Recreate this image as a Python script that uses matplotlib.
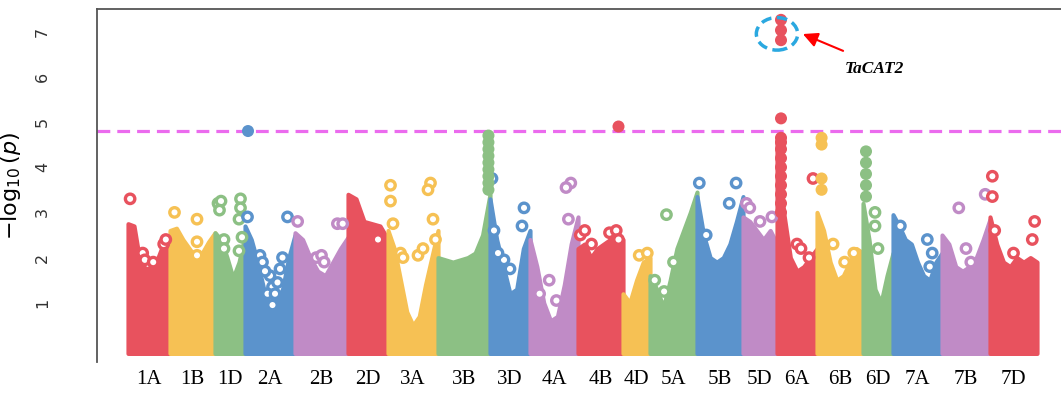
import numpy as np
import matplotlib.pyplot as plt
from matplotlib.patches import Ellipse

# chromosomes, approximate lengths (Mb) and colours cycling every 5
chroms = ["1A", "1B", "1D", "2A", "2B", "2D", "3A", "3B", "3D", "4A", "4B",
          "4D", "5A", "5B", "5D", "6A", "6B", "6D", "7A", "7B", "7D"]
chrom_len = [630, 675, 450, 750, 795, 600, 750, 780, 600, 720, 675,
             405, 705, 690, 510, 600, 690, 450, 735, 720, 705]
palette = ["#E8525E", "#F6C154", "#8CC084", "#5B93CC", "#C08BC6"]

# upper envelope of the dense SNP cloud, evenly spaced along each chromosome
envelope = [
    [2.75, 2.7, 1.9, 1.75, 1.8, 2.0, 2.35, 2.4],          # 1A
    [2.6, 2.65, 2.4, 2.2, 2.0, 2.1, 2.35, 2.55],          # 1B
    [2.55, 2.4, 2.0, 1.55, 1.9, 2.5],                     # 1D
    [2.7, 2.4, 1.9, 1.3, 0.9, 1.0, 1.3, 2.0, 2.5],        # 2A
    [2.55, 2.4, 2.0, 1.7, 1.6, 1.9, 2.2, 2.45],           # 2B
    [3.4, 3.3, 2.8, 2.75, 2.7, 2.4],                      # 2D
    [2.6, 2.2, 1.5, 0.8, 0.5, 0.7, 1.4, 2.0, 2.6],        # 3A
    [2.0, 1.95, 1.9, 1.95, 2.0, 2.1, 2.5, 3.4],           # 3B
    [3.3, 2.4, 1.8, 1.2, 1.3, 2.2, 2.6],                  # 3D
    [2.4, 1.8, 1.0, 0.6, 0.7, 1.4, 2.3, 2.9],             # 4A
    [2.2, 2.3, 2.0, 2.2, 2.3, 2.4, 2.5, 2.4],             # 4B
    [1.2, 1.0, 1.5, 1.9, 2.0],                            # 4D
    [1.6, 1.3, 0.9, 1.5, 2.2, 2.6, 3.0, 3.45],            # 5A
    [3.35, 2.5, 2.0, 1.9, 2.0, 2.3, 2.8, 3.35],           # 5B
    [2.9, 2.8, 2.6, 2.4, 2.6, 2.3],                       # 5D
    [4.6, 3.0, 2.0, 1.7, 1.8, 2.0, 2.2],                  # 6A
    [3.0, 2.6, 1.9, 1.5, 1.6, 1.9, 2.2, 2.1],             # 6B
    [3.2, 2.4, 1.3, 1.0, 1.6, 2.1],                       # 6D
    [2.95, 2.7, 2.4, 2.3, 1.9, 1.6, 1.5, 1.9, 2.1],       # 7A
    [2.5, 2.3, 1.8, 1.7, 1.8, 2.0, 2.4, 2.85],            # 7B
    [2.9, 2.3, 1.9, 1.8, 2.0, 1.9, 2.0, 1.9],             # 7D
]

# scattered SNPs above the cloud: chromosome, relative position, -log10(p)
open_chr = (["1A"] * 6 + ["1B"] * 4 + ["1D"] * 10 + ["2A"] * 13 + ["2B"] * 6 +
            ["2D"] + ["3A"] * 11 + ["3D"] * 7 + ["4A"] * 6 + ["4B"] * 6 +
            ["4D"] * 2 + ["5A"] * 4 + ["5B"] * 4 + ["5D"] * 4 + ["6A"] * 4 +
            ["6B"] * 3 + ["6D"] * 3 + ["7A"] * 4 + ["7B"] * 4 + ["7D"] * 6)
open_pos = [0.05, 0.35, 0.4, 0.6, 0.85, 0.9,
            0.1, 0.6, 0.6, 0.6,
            0.1, 0.2, 0.15, 0.85, 0.85, 0.8, 0.9, 0.8, 0.3, 0.3,
            0.05, 0.85, 0.3, 0.35, 0.5, 0.55, 0.45, 0.6, 0.65, 0.7, 0.75, 0.55, 0.4,
            0.05, 0.8, 0.9, 0.4, 0.5, 0.55,
            0.75,
            0.05, 0.05, 0.1, 0.25, 0.3, 0.6, 0.7, 0.85, 0.8, 0.9, 0.95,
            0.05, 0.1, 0.85, 0.8, 0.35, 0.5, 0.2,
            0.85, 0.75, 0.8, 0.4, 0.2, 0.55,
            0.05, 0.15, 0.3, 0.7, 0.85, 0.9,
            0.6, 0.9,
            0.35, 0.1, 0.3, 0.5,
            0.05, 0.2, 0.85, 0.7,
            0.1, 0.2, 0.5, 0.85,
            0.9, 0.5, 0.6, 0.8,
            0.35, 0.8, 0.6,
            0.4, 0.4, 0.5,
            0.15, 0.7, 0.8, 0.75,
            0.35, 0.9, 0.5, 0.6,
            0.05, 0.05, 0.1, 0.95, 0.9, 0.5]
open_val = [3.3, 2.1, 1.95, 1.9, 2.3, 2.4,
            3.0, 2.85, 2.35, 2.05,
            3.2, 3.25, 3.05, 3.3, 3.1, 2.85, 2.45, 2.15, 2.4, 2.2,
            2.9, 2.9, 2.05, 1.9, 1.6, 1.35, 1.2, 1.2, 1.45, 1.75, 2.0, 0.95, 1.7,
            2.8, 2.75, 2.75, 2.0, 2.05, 1.9,
            2.4,
            3.6, 3.25, 2.75, 2.1, 2.0, 2.05, 2.2, 3.65, 3.5, 2.85, 2.4,
            3.75, 2.6, 3.1, 2.7, 1.95, 1.75, 2.1,
            3.65, 3.55, 2.85, 1.5, 1.2, 1.05,
            2.5, 2.6, 2.3, 2.55, 2.6, 2.4,
            2.05, 2.1,
            2.95, 1.5, 1.25, 1.9,
            3.65, 2.5, 3.65, 3.2,
            3.2, 3.1, 2.8, 2.9,
            3.75, 2.3, 2.2, 2.0,
            2.3, 2.1, 1.9,
            3.0, 2.7, 2.2,
            2.7, 2.4, 2.1, 1.8,
            3.1, 3.4, 2.2, 1.9,
            3.8, 3.35, 2.6, 2.8, 2.4, 2.1]

# tightly packed peak SNPs drawn as filled dots
peak_chr = (["2A"] + ["3B"] * 9 + ["4B"] + ["6A"] * 14 + ["6B"] * 4 + ["6D"] * 5)
peak_pos = [0.06,
            0.97, 0.97, 0.97, 0.97, 0.97, 0.97, 0.97, 0.97, 0.97,
            0.9,
            0.1, 0.1, 0.1, 0.1, 0.1, 0.1, 0.1, 0.1, 0.1, 0.1, 0.1, 0.1, 0.1, 0.1,
            0.1, 0.1, 0.1, 0.1,
            0.1, 0.1, 0.1, 0.1, 0.1]
peak_val = [4.8,
            3.5, 3.65, 3.8, 3.95, 4.1, 4.25, 4.4, 4.55, 4.7,
            4.9,
            3.0, 3.2, 3.4, 3.6, 3.8, 4.0, 4.2, 4.4, 4.55, 4.65, 5.08, 6.81, 7.03, 7.26,
            4.65, 4.5, 3.75, 3.5,
            3.35, 3.6, 3.85, 4.1, 4.35]

threshold = 4.79

starts = np.concatenate([[0], np.cumsum(chrom_len)[:-1]])
idx = {c: i for i, c in enumerate(chroms)}

fig = plt.figure(figsize=(10.61, 4.03), dpi=100)
ax = fig.add_axes([97 / 1061, 41 / 403, 964 / 1061, 353 / 403])

for i, env in enumerate(envelope):
    col = palette[i % 5]
    xs = starts[i] + np.linspace(0.0, 1.0, len(env)) * chrom_len[i]
    ax.fill_between(xs, -0.12, env, color=col, lw=3, edgecolor=col,
                    joinstyle="round", zorder=2)

ox = [starts[idx[c]] + p * chrom_len[idx[c]] for c, p in zip(open_chr, open_pos)]
oc = [palette[idx[c] % 5] for c in open_chr]
ax.scatter(ox, open_val, s=46, facecolors="white", edgecolors=oc, linewidths=2.4, zorder=3)

px = [starts[idx[c]] + p * chrom_len[idx[c]] for c, p in zip(peak_chr, peak_pos)]
pc = [palette[idx[c] % 5] for c in peak_chr]
ax.scatter(px, peak_val, s=75, c=pc, edgecolors="none", zorder=4)

ax.axhline(threshold, color="#EB6BEE", lw=2.3, dashes=(4, 2.2), zorder=1)

# highlight TaCAT2
top_x = starts[idx["6A"]] + 0.1 * chrom_len[idx["6A"]]
ax.add_patch(Ellipse((top_x - 60, 6.95), 620, 0.72, fill=False, ec="#2AA8E0",
                     lw=2.5, ls=(0, (3, 1.6)), zorder=5))
ax.annotate("", xy=(top_x + 290, 6.97), xytext=(top_x + 970, 6.55),
            arrowprops=dict(arrowstyle="-|>", color="red", lw=1.5, mutation_scale=22))
ax.text(top_x + 1400, 6.17, "TaCAT2", fontsize=12.5, fontweight="bold", style="italic",
        family="Liberation Serif", ha="center", va="center")

ax.set_xlim(-465, 13995)
ax.set_ylim(-0.31, 7.5)
ax.set_xticks(starts + np.array(chrom_len) / 2)
ax.set_xticklabels(chroms, family="Liberation Serif", fontsize=15)
ax.set_yticks(range(1, 8))
ax.set_yticklabels([str(v) for v in range(1, 8)], rotation=90, va="center",
                   fontsize=11.5, color="#333333")
ax.tick_params(axis="x", length=0, pad=6)
ax.tick_params(axis="y", length=0, pad=34)
ax.set_ylabel(r"$-\log_{10}(p)$", fontsize=16)
ax.yaxis.set_label_coords(-0.077, 0.5)

for s in ["right", "bottom"]:
    ax.spines[s].set_visible(False)
for s in ["left", "top"]:
    ax.spines[s].set_color("#555555")
    ax.spines[s].set_linewidth(1.3)

fig.savefig("out.png", dpi=100)
